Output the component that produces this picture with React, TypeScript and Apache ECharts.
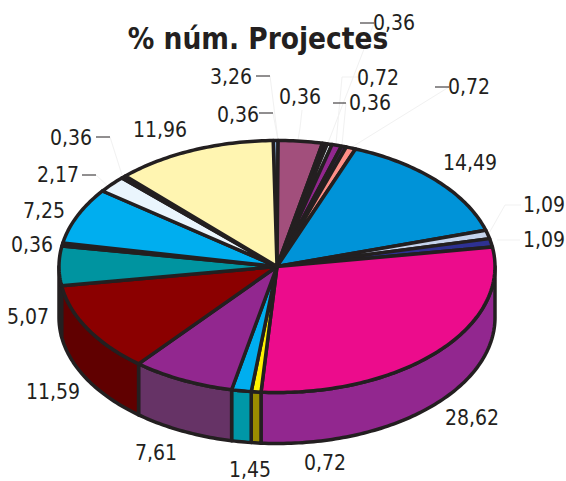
import React, { useEffect, useRef } from "react";
import * as echarts from "echarts";

const titleText = "% núm. Projectes";
const values = [0.36, 3.26, 0.36, 0.36, 0.72, 0.36, 0.72, 14.49, 1.09, 1.09, 28.62, 0.72, 1.45, 7.61, 11.59, 5.07, 0.36, 7.25, 2.17, 0.36, 11.96];
const topColors = ["#8db4dc", "#a24f7c", "#221c24", "#e8f4fb", "#92278f", "#3a1f4f", "#ff8f87", "#0093d8", "#c5d3ec", "#2e3192", "#ec0c8c", "#fff200", "#00aeef", "#92278f", "#8b0000", "#0094a0", "#3b4a5a", "#00aeef", "#eaf5fd", "#5b8f8f", "#fff5b1"];
const sideColors = ["#6f8fb0", "#7a3b5d", "#1a151b", "#b0b8bc", "#6e1d6c", "#2b173b", "#bf6b65", "#006fa2", "#949eb1", "#22256e", "#92278f", "#9a8c00", "#0097a7", "#663366", "#600000", "#600000", "#2c3844", "#0083b3", "#b0b8be", "#446b6b", "#bfb885"];

// [x, y] centre of each value's label, and where a dash / faint leader is drawn
const labelPos = [[238, 115], [231, 77], [300, 97], [394, 23], [378, 78], [370, 103], [469, 87], [470, 163], [544, 205], [544, 240], [472, 418], [325, 463], [250, 470], [156, 453], [53, 392], [28, 317], [32, 245], [44, 211], [58, 175], [71, 138], [160, 130]];
const dashes = [[259, 113, 273, 113], [256, 76, 270, 76], [360, 23, 374, 23], [333, 103, 346, 103], [435, 87, 449, 87], [82, 175, 96, 175], [96, 137, 110, 137]];
const leaders = [[[270, 76], [278, 140]], [[273, 113], [278, 140]], [[374, 23], [328, 143]], [[346, 103], [342, 145]], [[449, 87], [352, 147]], [[358, 77], [342, 77], [336, 144]], [[96, 175], [110, 188]], [[110, 137], [122, 175]], [[521, 205], [505, 205], [488, 235]], [[302, 110], [300, 128], [298, 140]], [[520, 240], [497, 240]]];

const CX = 277, CY = 266.5, RX = 218, RY = 126, DEPTH = 51, START = -1;
const INK = "#231f20";
const FONT = "'DejaVu Sans Condensed', 'DejaVu Sans', sans-serif";

const total = values.reduce((a, b) => a + b, 0);
const startAngle = (i: number) => START + (values.slice(0, i).reduce((a, b) => a + b, 0) / total) * 360;
const rim = (deg: number, dy = 0) => {
  const r = (deg * Math.PI) / 180;
  return [CX + RX * Math.sin(r), CY - RY * Math.cos(r) + dy];
};
const arc = (a: number, b: number, dy = 0) => {
  const pts: number[][] = [];
  const n = Math.max(2, Math.ceil(Math.abs(b - a)));
  for (let k = 0; k <= n; k++) pts.push(rim(a + ((b - a) * k) / n, dy));
  return pts;
};

export default function App() {
  const ref = useRef<HTMLDivElement>(null);
  useEffect(() => {
    document.body.style.margin = "0";
    const chart = echarts.init(ref.current!, undefined, { renderer: "svg" });
    const data = values.map((v, i) => ({ value: v, name: String(i) }));
    chart.setOption({
      animation: false,
      backgroundColor: "#fff",
      title: {
        text: titleText,
        left: 253,
        top: 19,
        textAlign: "center",
        textStyle: { fontFamily: FONT, fontSize: 29.5, fontWeight: "bold", color: INK },
      },
      series: [
        {
          type: "custom",
          coordinateSystem: "none",
          silent: true,
          z: 1,
          data,
          renderItem: (p: any) => {
            const a = Math.max(startAngle(p.dataIndex), 90);
            const b = Math.min(startAngle(p.dataIndex + 1), 270);
            if (b <= a) return { type: "group", children: [] };
            return {
              type: "polygon",
              shape: { points: [...arc(a, b), ...arc(b, a, DEPTH)] },
              style: { fill: sideColors[p.dataIndex], stroke: INK, lineWidth: 3.5, lineJoin: "round" },
            };
          },
        },
        {
          type: "custom",
          coordinateSystem: "none",
          silent: true,
          z: 2,
          data,
          renderItem: (p: any) => ({
            type: "polygon",
            shape: { points: [[CX, CY], ...arc(startAngle(p.dataIndex), startAngle(p.dataIndex + 1))] },
            style: { fill: topColors[p.dataIndex], stroke: INK, lineWidth: 3.5, lineJoin: "round" },
          }),
        },
        {
          type: "custom",
          coordinateSystem: "none",
          silent: true,
          z: 3,
          data,
          renderItem: (p: any, api: any) => {
            const [x, y] = labelPos[p.dataIndex];
            return {
              type: "text",
              x,
              y,
              style: {
                text: api.value(0).toFixed(2).replace(".", ","),
                fill: INK,
                font: `21px ${FONT}`,
                align: "center",
                verticalAlign: "middle",
              },
            };
          },
        },
      ],
      graphic: [
        ...leaders.map((pts) => ({
          type: "polyline",
          silent: true,
          shape: { points: pts },
          style: { stroke: "#f1f1f1", lineWidth: 1, fill: "none" },
        })),
        ...dashes.map(([x1, y1, x2, y2]) => ({
          type: "line",
          silent: true,
          shape: { x1, y1, x2, y2 },
          style: { stroke: INK, lineWidth: 1 },
        })),
      ],
    });
    return () => chart.dispose();
  }, []);
  return <div ref={ref} style={{ width: 566, height: 481 }} />;
}
